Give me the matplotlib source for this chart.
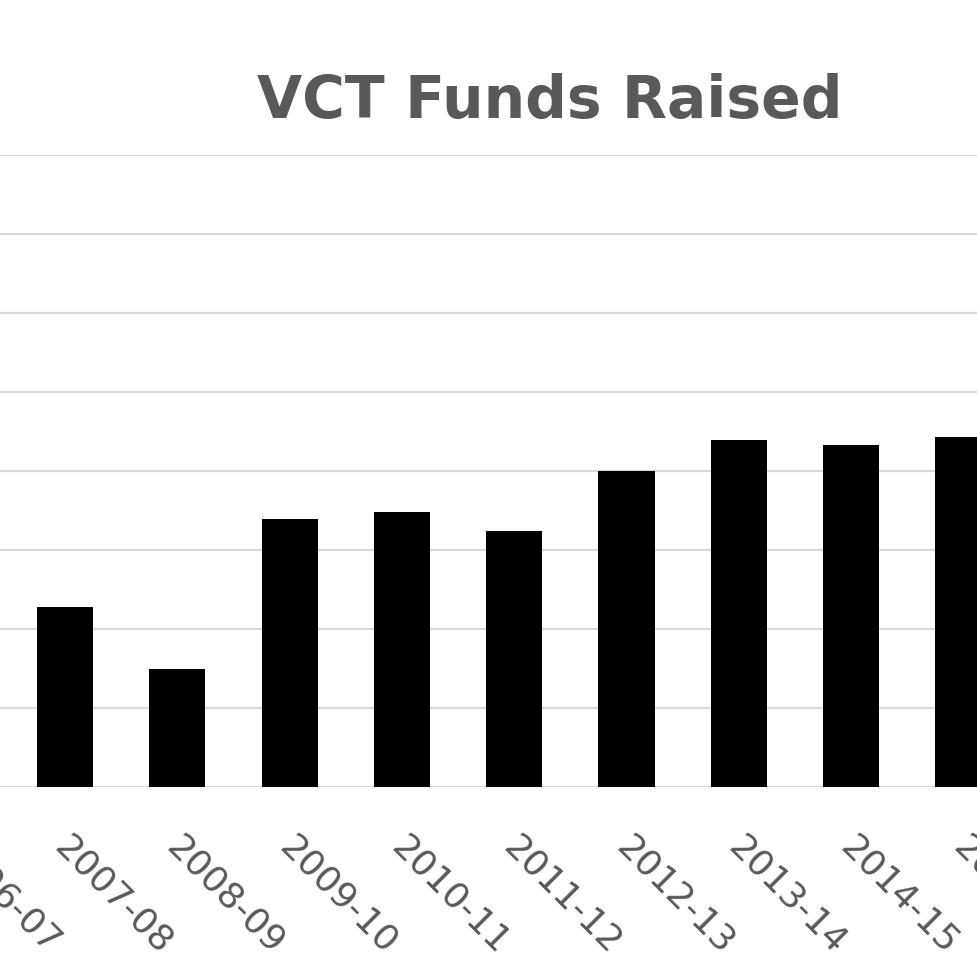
import matplotlib.pyplot as plt
import matplotlib.transforms as mtransforms

years = ["2006-07", "2007-08", "2008-09", "2009-10", "2010-11",
         "2011-12", "2012-13", "2013-14", "2014-15", "2015-16"]
# funds raised (GBP m); 2006-07 bar lies outside the cropped view
funds = [270, 228, 149, 339, 348, 324, 400, 439, 433, 443]

GREY = "#595959"
GRID = "#d9d9d9"

fig = plt.figure(figsize=(9.78, 9.78), dpi=100)
ax = fig.add_axes([0.0, 0.1943, 1.0, 0.6462])

x = list(range(len(years)))
ax.bar(x, funds, width=0.5, color="black", zorder=3)

ax.set_xticks([])
ax.set_xlim(0.4212, 9.130)
ax.set_ylim(0, 800)
ax.set_yticks(range(0, 801, 100))
ax.yaxis.grid(True, color=GRID, linewidth=1.6, zorder=0)
ax.set_yticklabels([])
ax.tick_params(axis="both", length=0)
for s in ax.spines.values():
    s.set_visible(False)

# category labels drawn by hand so the half-cropped ones at the edges still show
trans = mtransforms.blended_transform_factory(ax.transData, ax.transAxes)
trans = trans + mtransforms.ScaledTranslation(0.07, -30 / 72, fig.dpi_scale_trans)
for i, yr in zip(x, years):
    ax.text(i, 0, yr, transform=trans, rotation=-45, ha="left", va="top",
            rotation_mode="anchor", fontsize=26, color=GREY,
            family="DejaVu Sans", clip_on=False)

fig.text(550 / 978, 1 - 102 / 978, "VCT Funds Raised", ha="center", va="center",
         fontsize=42, fontweight="bold", color=GREY, family="DejaVu Sans")

fig.savefig("out.png", dpi=100)
